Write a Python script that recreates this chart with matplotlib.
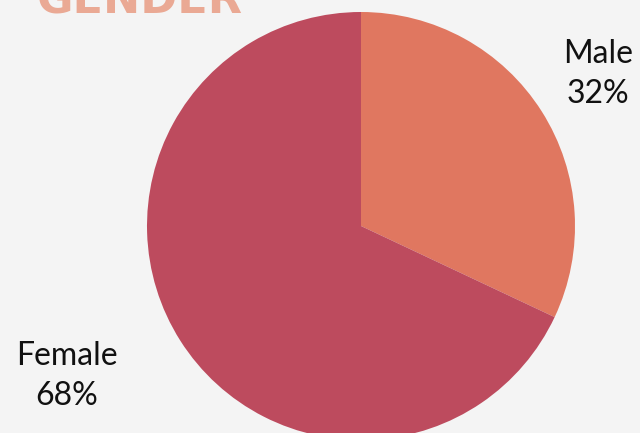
import matplotlib.pyplot as plt

labels = ["Male", "Female"]
shares = [32, 68]
colors = ["#e07760", "#bd4b5e"]

W, H = 640, 433

fig = plt.figure(figsize=(6.4, 4.33), dpi=100, facecolor="#f4f4f4")
ax = fig.add_axes([0, 0, 1, 1])
ax.set_xlim(0, W)
ax.set_ylim(0, H)
ax.set_aspect("equal")
ax.axis("off")

# pie centre / radius measured in pixels (y from bottom)
ax.pie(shares, colors=colors, startangle=90, counterclock=False,
       center=(361, H - 226), radius=214,
       wedgeprops=dict(linewidth=0))
ax.set_xlim(0, W)
ax.set_ylim(0, H)

label_pos = [(598, 74), (67, 376)]
for lab, val, (x, y) in zip(labels, shares, label_pos):
    ax.text(x, H - y, f"{lab}\n{val}%", ha="center", va="center",
            fontsize=23, family="Lato", linespacing=1.45, color="#111111")

ax.text(140, H - 14, "GENDER", ha="center", va="baseline", fontsize=32,
        fontweight="bold", family="DejaVu Sans",
        color="#eaa994")

fig.savefig("out.png", dpi=100, facecolor=fig.get_facecolor())
